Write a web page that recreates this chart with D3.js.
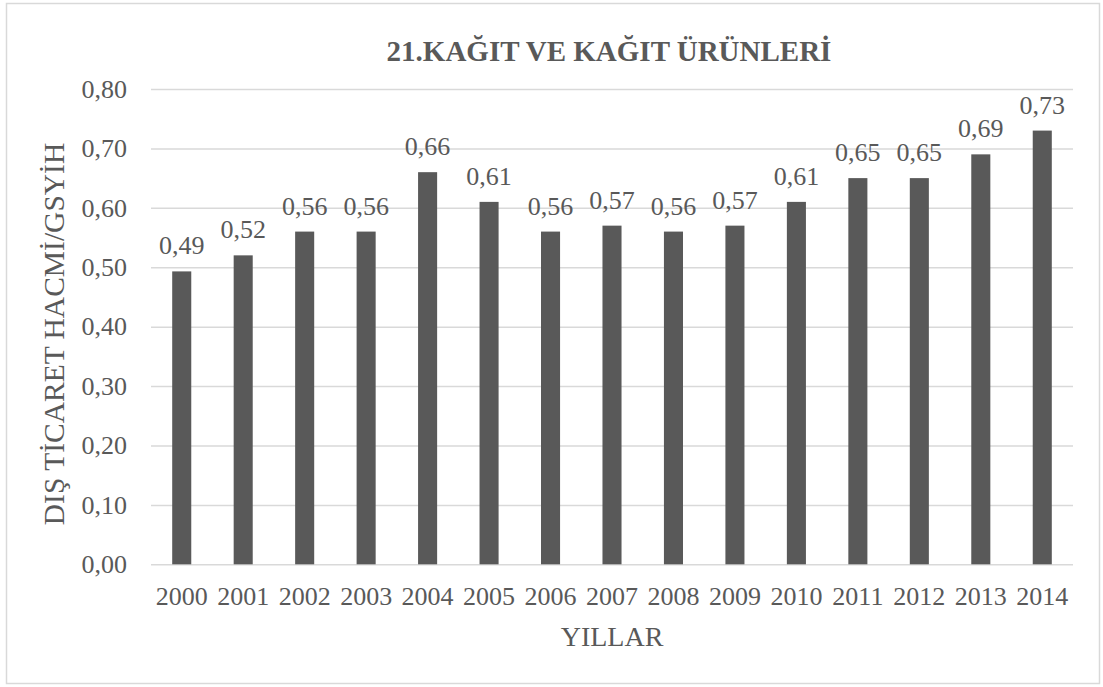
<!DOCTYPE html>
<html>
<head>
<meta charset="utf-8">
<script src="https://cdn.jsdelivr.net/npm/d3@7"></script>
<style>
  html, body { margin: 0; padding: 0; background: #ffffff; }
  svg { display: block; }
</style>
</head>
<body>
<svg id="chart" width="1103" height="687"></svg>
<script>
const years = ["2000","2001","2002","2003","2004","2005","2006","2007","2008","2009","2010","2011","2012","2013","2014"];
const values = [0.493, 0.52, 0.56, 0.56, 0.66, 0.61, 0.56, 0.57, 0.56, 0.57, 0.61, 0.65, 0.65, 0.69, 0.73];
const yTicks = [0, 0.1, 0.2, 0.3, 0.4, 0.5, 0.6, 0.7, 0.8];
const titleText = "21.KAĞIT VE KAĞIT ÜRÜNLERİ";
const xTitle = "YILLAR";
const yTitle = "DIŞ TİCARET HACMİ/GSYİH";

const W = 1103, H = 687;
const margin = { left: 151, right: 1103 - 1073, top: 89, bottom: 687 - 564.3 };
const font = "'Liberation Serif', 'Times New Roman', serif";
const textColor = "#595959";

const svg = d3.select("#chart");

// outer border
svg.append("rect")
  .attr("x", 6.5).attr("y", 3.5)
  .attr("width", 1093).attr("height", 680)
  .attr("fill", "#ffffff")
  .attr("stroke", "#d9d9d9").attr("stroke-width", 1.5);

const x = d3.scaleBand()
  .domain(years)
  .range([margin.left, W - margin.right])
  .paddingInner(0.69).paddingOuter(0.345);

const y = d3.scaleLinear()
  .domain([0, 0.8])
  .range([H - margin.bottom, margin.top]);

const fmt = v => d3.format(".2f")(v).replace(".", ",");

// gridlines + y tick labels
const yAxis = d3.axisLeft(y)
  .tickValues(yTicks)
  .tickSize(-(W - margin.right - margin.left))
  .tickFormat(fmt)
  .tickPadding(24);

const gy = svg.append("g")
  .attr("transform", `translate(${margin.left},0)`)
  .call(yAxis);
gy.select(".domain").remove();
gy.selectAll(".tick line").attr("stroke", "#d9d9d9").attr("stroke-width", 1.5);
gy.selectAll(".tick text")
  .attr("fill", textColor)
  .style("font-family", font)
  .style("font-size", "26px");

// bars
svg.append("g")
  .selectAll("rect")
  .data(values)
  .join("rect")
  .attr("x", (d, i) => x(years[i]))
  .attr("width", x.bandwidth())
  .attr("y", d => y(d))
  .attr("height", d => y(0) - y(d))
  .attr("fill", "#595959");

// data labels
svg.append("g")
  .selectAll("text")
  .data(values)
  .join("text")
  .attr("x", (d, i) => x(years[i]) + x.bandwidth() / 2)
  .attr("y", d => y(d) - 17)
  .attr("text-anchor", "middle")
  .attr("fill", textColor)
  .style("font-family", font)
  .style("font-size", "26px")
  .text(d => fmt(d));

// x axis
const xAxis = d3.axisBottom(x).tickSize(0).tickPadding(22);
const gx = svg.append("g")
  .attr("transform", `translate(0,${y(0)})`)
  .call(xAxis);
gx.select(".domain").remove();
gx.selectAll(".tick text")
  .attr("fill", textColor)
  .style("font-family", font)
  .style("font-size", "26px");

// title
svg.append("text")
  .attr("x", (margin.left + W - margin.right) / 2 - 3)
  .attr("y", 61)
  .attr("text-anchor", "middle")
  .attr("fill", textColor)
  .style("font-family", font)
  .style("font-size", "29px")
  .style("font-weight", "bold")
  .text(titleText);

// x title
svg.append("text")
  .attr("x", (margin.left + W - margin.right) / 2)
  .attr("y", 646)
  .attr("text-anchor", "middle")
  .attr("fill", textColor)
  .style("font-family", font)
  .style("font-size", "28px")
  .text(xTitle);

// y title
svg.append("text")
  .attr("transform", `translate(64,334) rotate(-90)`)
  .attr("text-anchor", "middle")
  .attr("fill", textColor)
  .style("font-family", font)
  .style("font-size", "29.5px")
  .text(yTitle);
</script>
</body>
</html>
